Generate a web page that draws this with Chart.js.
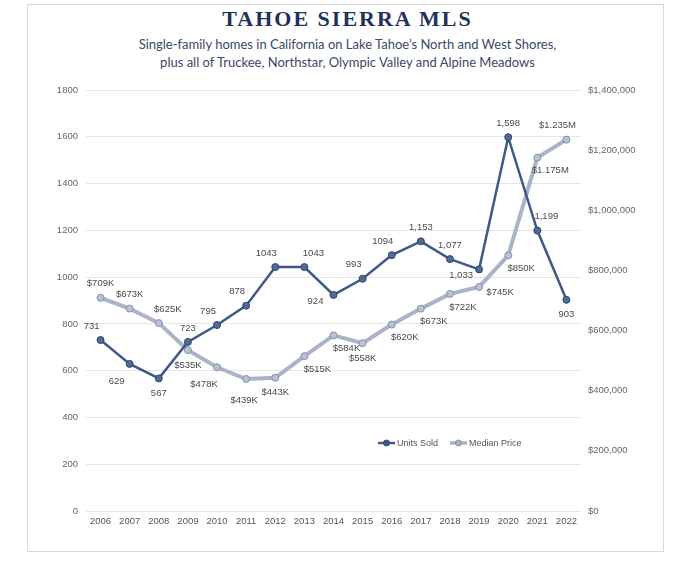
<!DOCTYPE html>
<html>
<head>
<meta charset="utf-8">
<script src="https://cdn.jsdelivr.net/npm/chart.js@4/dist/chart.umd.min.js"></script>
<style>
    html, body { margin: 0; padding: 0; background: #fff; }
    body { width: 695px; height: 563px; position: relative; overflow: hidden; }
    .frame { position: absolute; left: 27px; top: 4px; width: 635px; height: 546px; border: 1px solid #d9d9d9; }
    .title { position: absolute; left: 0; top: 6px; width: 695px; text-align: center;
        font-family: "Liberation Serif", serif; font-weight: bold; font-size: 22px; letter-spacing: 2px; color: #1f3358; }
    .sub { position: absolute; left: 0; width: 695px; text-align: center;
        font-family: Lato, sans-serif; font-size: 13px; color: #3a4868; }
    canvas { position: absolute; left: 0; top: 0; }
</style>
</head>
<body>
<div class="frame"></div>
<div class="title">TAHOE SIERRA MLS</div>
<div class="sub" style="top:36px">Single-family homes in California on Lake Tahoe’s North and West Shores,</div>
<div class="sub" style="top:54px">plus all of Truckee, Northstar, Olympic Valley and Alpine Meadows</div>
<canvas id="chart" width="695" height="563"></canvas>
<script>
const years = ['2006', '2007', '2008', '2009', '2010', '2011', '2012', '2013', '2014',
    '2015', '2016', '2017', '2018', '2019', '2020', '2021', '2022'];
const unitsSold = [731, 629, 567, 723, 795, 878, 1043, 1043, 924, 993, 1094, 1153, 1077, 1033, 1598, 1199, 903];
const medianPrice = [709000, 673000, 625000, 535000, 478000, 439000, 443000, 515000, 584000,
    558000, 620000, 673000, 722000, 745000, 850000, 1175000, 1235000];
const unitLabels = ['731', '629', '567', '723', '795', '878', '1043', '1043', '924', '993', '1094',
    '1,153', '1,077', '1,033', '1,598', '1,199', '903'];
const priceLabels = ['$709K', '$673K', '$625K', '$535K', '$478K', '$439K', '$443K', '$515K', '$584K',
    '$558K', '$620K', '$673K', '$722K', '$745K', '$850K', '$1.175M', '$1.235M'];

// where each value label sits relative to its point
const unitPos = ['nw', 'sw', 's', 'n', 'nw', 'nw', 'nw', 'ne', 'w', 'nw', 'nw', 'n', 'n', 'w', 'n', 'ne', 's'];
const pricePos = ['n', 'n', 'ne', 's', 'sw', 'ss', 's', 'se', 'se', 's', 'se', 'se', 'se', 'e', 'se', 'se', 'nw'];
const offsets = {
    n: [0, -14], s: [0, 15], ss: [-2, 21], nw: [-9, -14], ne: [9, -14],
    sw: [-13, 17], se: [13, 13], w: [-18, 6], e: [21, 5]
};

const UNIT_COL = '#3f5987';
const PRICE_COL = '#aab3c7';

const valueLabels = {
    id: 'valueLabels',
    afterDatasetsDraw(chart) {
        const ctx = chart.ctx;
        ctx.save();
        ctx.font = '9.5px "Liberation Sans", Arial, sans-serif';
        ctx.fillStyle = '#4a4a4a';
        ctx.textAlign = 'center';
        ctx.textBaseline = 'middle';
        [[0, unitLabels, unitPos], [1, priceLabels, pricePos]].forEach(([i, texts, pos]) => {
            chart.getDatasetMeta(i).data.forEach((pt, j) => {
                const o = offsets[pos[j]];
                ctx.fillText(texts[j], pt.x + o[0], pt.y + o[1]);
            });
        });

        // legend inside the plot
        const a = chart.chartArea;
        const lx = a.left + 292, ly = a.bottom - 68;
        ctx.textAlign = 'left';
        ctx.font = '9px "Liberation Sans", Arial, sans-serif';
        [[UNIT_COL, '#33496f', 'Units Sold', 0, 2.5], [PRICE_COL, '#8591ab', 'Median Price', 72, 3.5]].forEach(([c, b, t, dx, w]) => {
            ctx.strokeStyle = c;
            ctx.lineWidth = w;
            ctx.beginPath();
            ctx.moveTo(lx + dx, ly);
            ctx.lineTo(lx + dx + 17, ly);
            ctx.stroke();
            ctx.beginPath();
            ctx.arc(lx + dx + 8.5, ly, 3, 0, Math.PI * 2);
            ctx.fillStyle = c;
            ctx.fill();
            ctx.strokeStyle = b;
            ctx.lineWidth = 1;
            ctx.stroke();
            ctx.fillStyle = '#555';
            ctx.fillText(t, lx + dx + 19, ly + 0.5);
        });
        ctx.restore();
    }
};

const tickFont = { family: '"Liberation Sans", Arial, sans-serif', size: 9.5 };

new Chart(document.getElementById('chart'), {
    type: 'line',
    data: {
        labels: years,
        datasets: [{
            label: 'Units Sold', data: unitsSold, yAxisID: 'y',
            borderColor: UNIT_COL, borderWidth: 2.5,
            pointRadius: 3.5, pointBackgroundColor: '#506a99', pointBorderColor: '#2f4569', pointBorderWidth: 1,
            tension: 0
        }, {
            label: 'Median Price', data: medianPrice, yAxisID: 'y1',
            borderColor: PRICE_COL, borderWidth: 4,
            pointRadius: 3.5, pointBackgroundColor: '#b9c1d3', pointBorderColor: '#8591ab', pointBorderWidth: 1,
            tension: 0
        }]
    },
    options: {
        responsive: false,
        animation: false,
        layout: { padding: { left: 50, right: 14, top: 90, bottom: 30 } },
        plugins: { legend: { display: false }, tooltip: { enabled: false } },
        scales: {
            x: {
                offset: true,
                grid: { display: false, drawTicks: false },
                border: { display: false },
                ticks: { font: tickFont, color: '#555', padding: 5, maxRotation: 0 },
                afterFit: s => { s.height = 22; }
            },
            y: {
                position: 'left', min: 0, max: 1800,
                grid: { color: '#e6e6e6', drawTicks: false },
                border: { display: false },
                ticks: { stepSize: 200, font: tickFont, color: '#666', padding: 8, callback: v => String(v) },
                afterFit: s => { s.width = 36; }
            },
            y1: {
                position: 'right', min: 0, max: 1400000,
                grid: { display: false, drawTicks: false },
                border: { display: false },
                ticks: {
                    stepSize: 200000, font: tickFont, color: '#666', padding: 7,
                    callback: v => '$' + v.toLocaleString('en-US')
                },
                afterFit: s => { s.width = 100; }
            }
        }
    },
    plugins: [valueLabels]
});
</script>
</body>
</html>
